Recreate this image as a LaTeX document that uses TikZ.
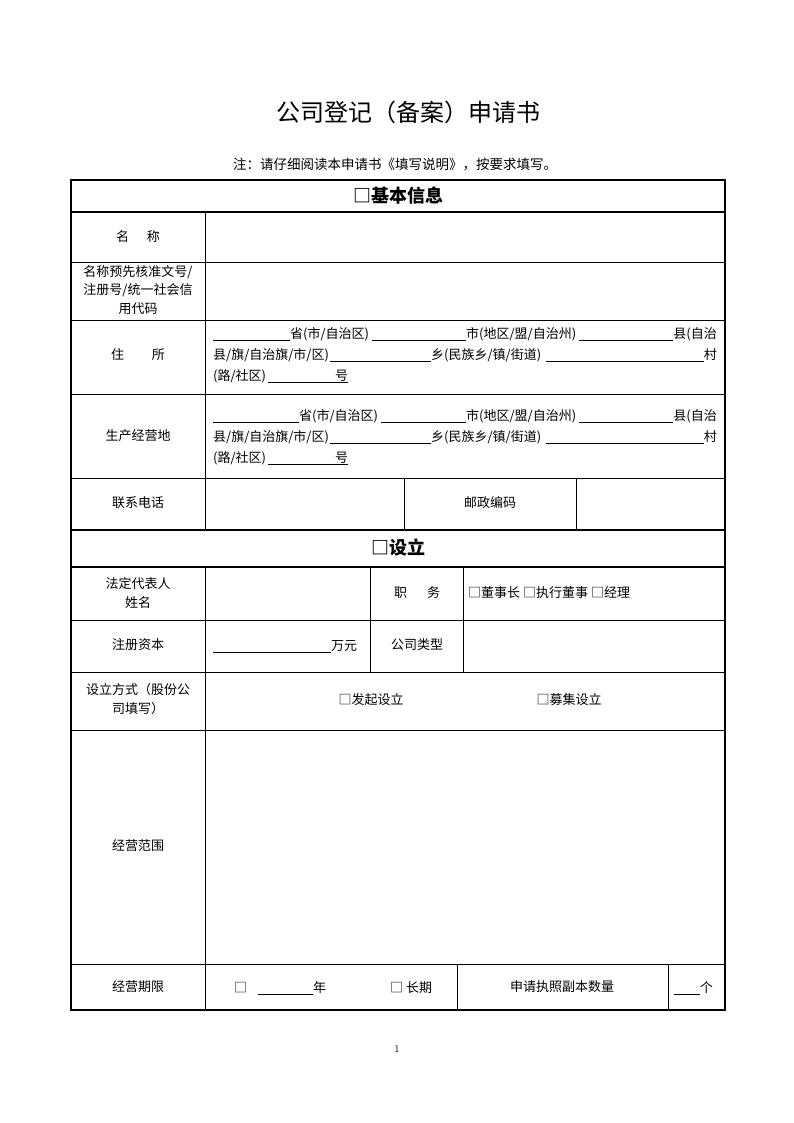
\documentclass[tikz,border=0pt]{standalone}
\usepackage{fontspec}
\newfontfamily\cjk{Noto Sans CJK SC}
\usetikzlibrary{calc}

\begin{document}
\begin{tikzpicture}[x=1pt,y=-1pt,
  frame/.style={line width=1.8pt},
  rule/.style={line width=0.9pt},
  blank/.style={line width=0.7pt},
  txt/.style={font=\cjk\fontsize{13}{18.5}\selectfont,inner sep=0pt,align=center},
  head/.style={font=\cjk\bfseries\fontsize{18}{20}\selectfont,inner sep=0pt}]
  \useasboundingbox (0,0) rectangle (794,1123);
  \node[font=\cjk\fontsize{24}{26}\selectfont] (title) at (408,112) {公司登记（备案）申请书};
  \node[font=\cjk\fontsize{13.5}{15}\selectfont] (note) at (395,165) {注：请仔细阅读本申请书《填写说明》，按要求填写。};

  \draw[frame] (71,180) rectangle (725,1010);
  \draw[frame] (71,212) -- (725,212);
  \draw[frame] (71,530) -- (725,530);
  \draw[frame] (71,567) -- (725,567);
  \draw[rule] (205,212) -- (205,530);
  \draw[rule] (205,567) -- (205,1010);
  \foreach \y in {262,320,394,478,620,672,730,964}
    \draw[rule] (71,\y) -- (725,\y);
  \draw[rule] (404,478) -- (404,530);
  \draw[rule] (576,478) -- (576,530);
  \draw[rule] (370,567) -- (370,672);
  \draw[rule] (463,567) -- (463,672);
  \draw[rule] (457,964) -- (457,1010);
  \draw[rule] (668,964) -- (668,1010);

  \node[head] (base) at (398,196) {□基本信息};
  \node[txt] (name) at (138,237) {名\hspace{18pt}称};
  \node[txt] (code) at (138,290) {名称预先核准文号/\\注册号/统一社会信\\用代码};
  \node[txt] (addr) at (138,355) {住\hspace{28pt}所};
  \node[txt] (site) at (138,436) {生产经营地};
  \node[txt] (tel) at (138,503) {联系电话};
  \node[txt] (post) at (490,503) {邮政编码};

  \foreach \r/\y/\s in {zs/338/290,sc/420/299}{
    \node[txt,anchor=base west] (\r-a) at (\s,\y) {省(市/自治区)};
    \node[txt,anchor=base west] (\r-b) at (466,\y) {市(地区/盟/自治州)};
    \node[txt,anchor=base east] (\r-c) at (717,\y) {县(自治};
    \node[txt,anchor=base west] (\r-d) at (213,\y+21) {县/旗/自治旗/市/区)};
    \node[txt,anchor=base west] (\r-e) at (431,\y+21) {乡(民族乡/镇/街道)};
    \node[txt,anchor=base east] (\r-f) at (717,\y+21) {村};
    \node[txt,anchor=base west] (\r-g) at (213,\y+42) {(路/社区)};
    \node[txt,anchor=base west] (\r-h) at (335,\y+42) {号};
    \draw[blank] (213,\y+2.5) -- ($(\r-a.base west)+(0,2.5)$);
    \draw[blank] ($(\r-a.base east)+(3,2.5)$) -- ($(\r-b.base west)+(0,2.5)$);
    \draw[blank] ($(\r-b.base east)+(3,2.5)$) -- ($(\r-c.base west)+(0,2.5)$);
    \draw[blank] ($(\r-d.base east)+(1,2.5)$) -- ($(\r-e.base west)+(0,2.5)$);
    \draw[blank] ($(\r-e.base east)+(5,2.5)$) -- ($(\r-f.base west)+(0,2.5)$);
    \draw[blank] ($(\r-g.base east)+(2,2.5)$) -- ($(\r-h.base east)+(0,2.5)$);
  }

  \node[head] (setup) at (398,548) {□设立};
  \node[txt] (rep) at (138,593) {法定代表人\\姓名};
  \node[txt] (duty) at (417,593) {职\hspace{20pt}务};
  \node[txt,anchor=west] (dutybox) at (468,593) {□董事长 □执行董事 □经理};
  \node[txt] (capital) at (138,645) {注册资本};
  \node[txt,anchor=base west] (wan) at (331,650) {万元};
  \draw[blank] (213,652.5) -- ($(wan.base west)+(0,2.5)$);
  \node[txt] (type) at (417,645) {公司类型};
  \node[txt] (mode) at (138,699) {设立方式（股份公\\司填写）};
  \node[txt] (faqi) at (371,700) {□发起设立};
  \node[txt] (muji) at (569,700) {□募集设立};
  \node[txt] (scope) at (138,846) {经营范围};
  \node[txt] (term) at (138,987) {经营期限};
  \node[txt,anchor=base west] (yearbox) at (234,992) {□};
  \node[txt,anchor=base west] (nian) at (313,992) {年};
  \draw[blank] (258,994.5) -- ($(nian.base west)+(0,2.5)$);
  \node[txt,anchor=base west] (longbox) at (390,992) {□ 长期};
  \node[txt] (copies) at (562,987) {申请执照副本数量};
  \node[txt,anchor=base east] (ge) at (713,992) {个};
  \draw[blank] (674,994.5) -- ($(ge.base west)+(0,2.5)$);

  \node[font=\fontsize{10.5}{12}\selectfont] (page) at (397,1049) {1};
\end{tikzpicture}
\end{document}
